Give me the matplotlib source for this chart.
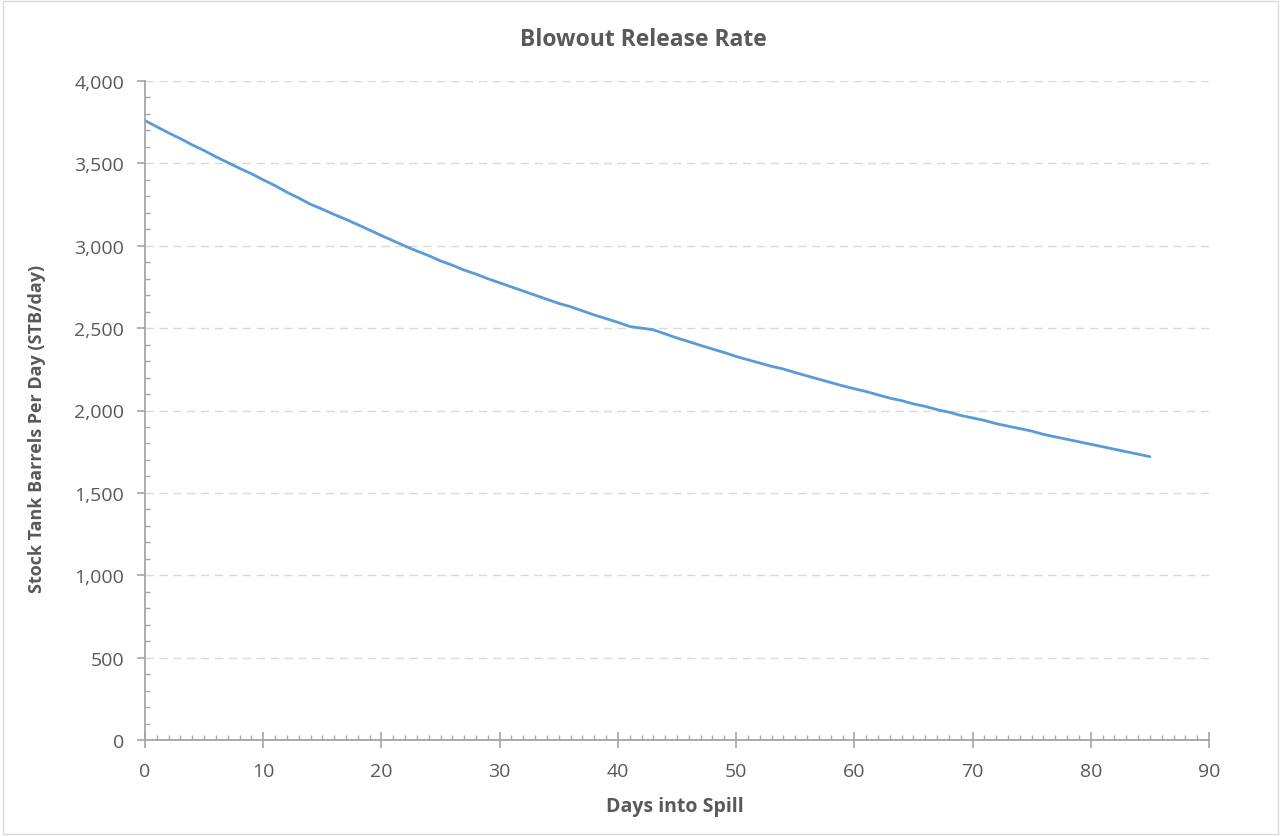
import matplotlib
matplotlib.use("Agg")
from matplotlib import pyplot as plt
from matplotlib.ticker import MultipleLocator, FuncFormatter
from matplotlib.patches import Rectangle

# data
days = list(range(0, 86))
rate = [3760, 3722, 3685, 3650, 3612, 3578, 3540, 3505, 3470, 3437,
        3400, 3365, 3325, 3290, 3252, 3222, 3190, 3160, 3128, 3095,
        3062, 3030, 2998, 2968, 2940, 2908, 2882, 2852, 2828, 2800,
        2775, 2750, 2725, 2700, 2675, 2650, 2630, 2605, 2580, 2558,
        2535, 2510, 2500, 2490, 2465, 2440, 2418, 2395, 2373, 2352,
        2328, 2308, 2288, 2268, 2252, 2230, 2210, 2190, 2170, 2150,
        2132, 2115, 2095, 2075, 2060, 2040, 2025, 2005, 1990, 1970,
        1955, 1940, 1920, 1905, 1890, 1875, 1855, 1840, 1825, 1810,
        1795, 1780, 1765, 1750, 1735, 1720]

title = "Blowout Release Rate"
xlabel = "Days into Spill"
ylabel = "Stock Tank Barrels Per Day (STB/day)"

plt.rcParams["font.family"] = ["Open Sans", "DejaVu Sans"]
grey_txt = "#595959"
axis_col = "#A6A6A6"

fig = plt.figure(figsize=(12.81, 8.37), dpi=100)
ax = fig.add_axes([145 / 1281, 96 / 837, 1064 / 1281, 659 / 837])

ax.plot(days, rate, color="#5B9BD5", lw=2.0, solid_capstyle="round")

ax.set_xlim(0, 90)
ax.set_ylim(0, 4000)
ax.xaxis.set_major_locator(MultipleLocator(10))
ax.xaxis.set_minor_locator(MultipleLocator(1))
ax.yaxis.set_major_locator(MultipleLocator(500))
ax.yaxis.set_minor_locator(MultipleLocator(100))
ax.yaxis.set_major_formatter(FuncFormatter(lambda v, p: f"{int(v):,}"))

ax.grid(axis="y", which="major", color="#D9D9D9", ls=(0, (6, 4)), lw=1.0)
ax.set_axisbelow(True)

for s in ["top", "right"]:
    ax.spines[s].set_visible(False)
for s in ["left", "bottom"]:
    ax.spines[s].set_color(axis_col)
    ax.spines[s].set_linewidth(1.3)

ax.tick_params(axis="y", which="major", direction="out", length=6, width=1.2,
               color=axis_col, labelcolor=grey_txt, labelsize=14, pad=9)
ax.tick_params(axis="y", which="minor", direction="in", length=3.5, width=1.0,
               color=axis_col)
ax.tick_params(axis="x", which="major", direction="inout", length=11, width=1.2,
               color=axis_col, labelcolor=grey_txt, labelsize=14, pad=10)
ax.tick_params(axis="x", which="minor", direction="in", length=3.5, width=1.0,
               color=axis_col)

fig.text(643 / 1281, 1 - 40 / 837, title, fontsize=16.5, fontweight="bold",
         color=grey_txt, ha="center", va="center")
ax.set_xlabel(xlabel, fontsize=14, fontweight="bold", color=grey_txt)
ax.xaxis.set_label_coords((675 - 145) / 1064, (741 - 807) / 659)
ax.xaxis.label.set_va("center")
ax.set_ylabel(ylabel, fontsize=13, fontweight="bold", color=grey_txt)
ax.yaxis.set_label_coords((37 - 145) / 1064, (741 - 429) / 659)
ax.yaxis.label.set_va("center")

fig.patches.append(Rectangle((0.002, 0.002), 0.996, 0.996, transform=fig.transFigure,
                             fill=False, edgecolor="#D9D9D9", lw=1.0))

fig.savefig("out.png", dpi=100)
